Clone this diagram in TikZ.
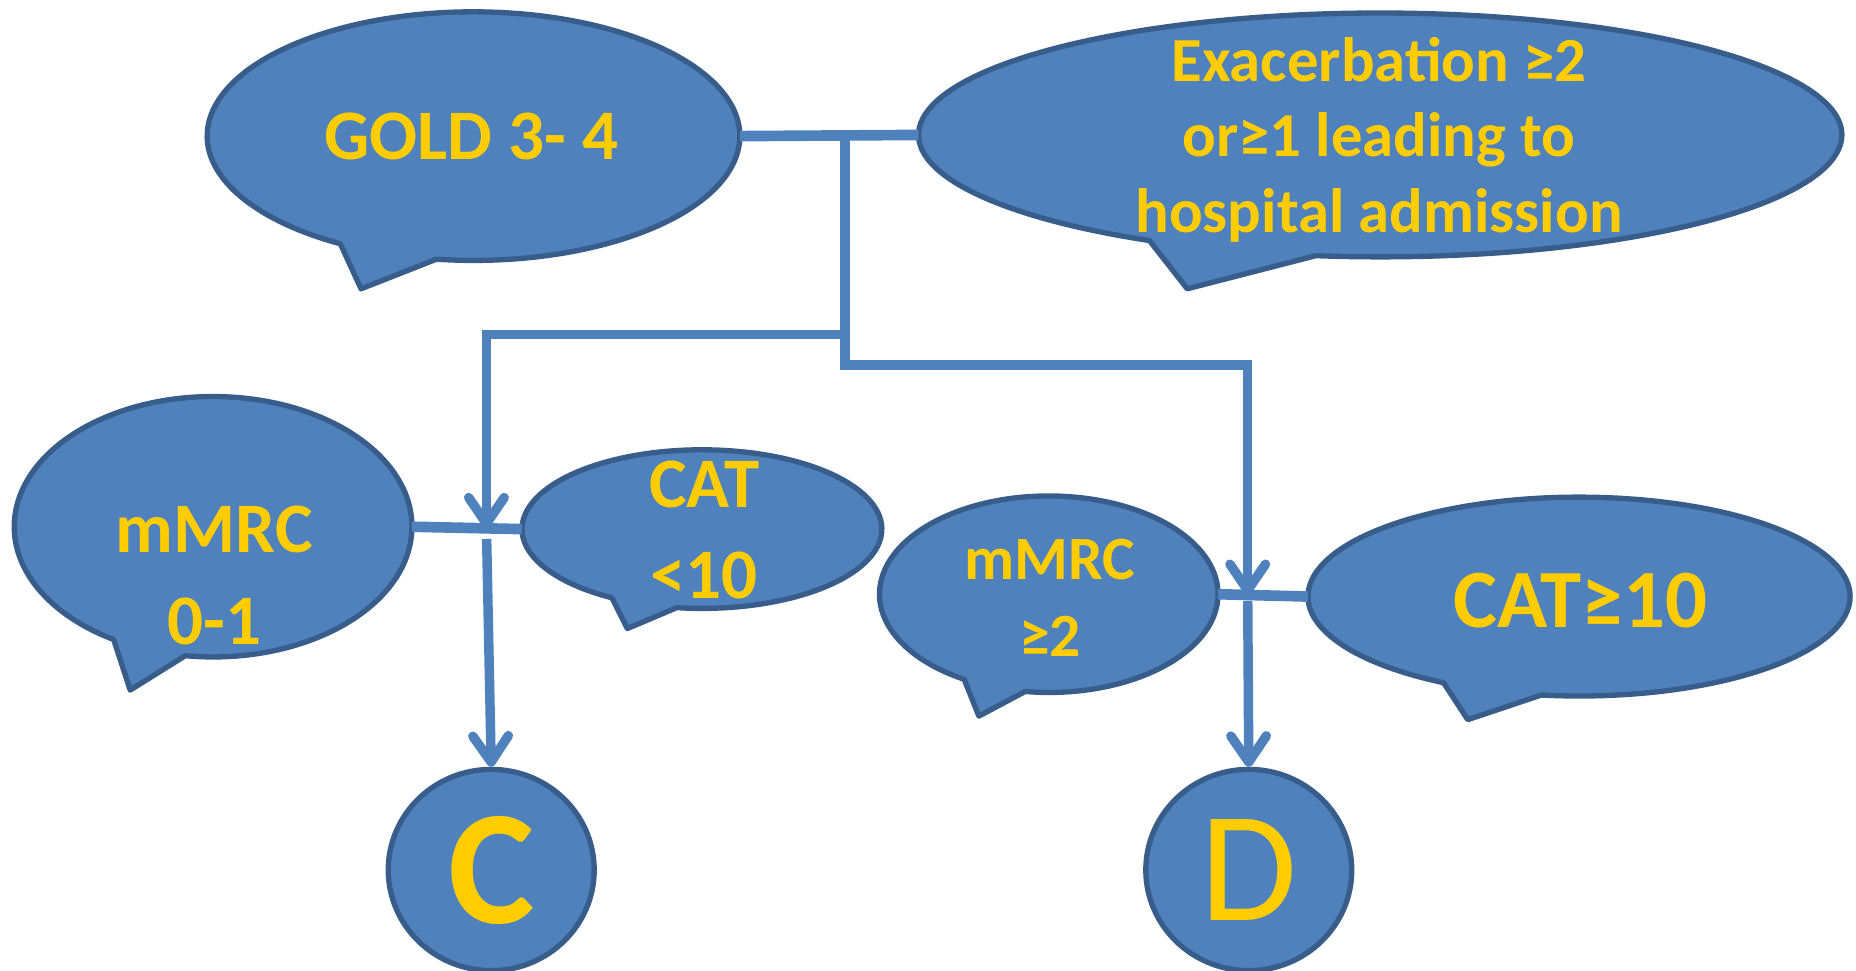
\documentclass[tikz,border=0pt]{standalone}
\usepackage{fontspec}
\setmainfont{Carlito}
\usetikzlibrary{arrows.meta,calc,shapes.geometric}
\definecolor{ppblue}{HTML}{4F81BD}
\definecolor{ppdark}{HTML}{385D8A}
\definecolor{ppyellow}{HTML}{FFCC00}
\tikzset{
  bubble/.style={fill=ppblue, draw=ppdark, line width=4.5pt, line join=round},
  anchornode/.style={ellipse, inner sep=0pt, outer sep=0pt},
  lbl/.style={text=ppyellow, font=\bfseries, inner sep=0pt, align=center},
  linkline/.style={draw=ppblue, line width=9pt},
  arrline/.style={draw=ppblue, line width=8pt,
    -{Straight Barb[length=22pt,width=30pt,round]}},
}
% name, centre, x radius, y radius, tip
\newcommand{\speech}[5]{%
  \node[anchornode, minimum width=#3*2pt, minimum height=#4*2pt] (#1) at #2 {};
  \draw[bubble] ($#2+(262:#3pt and #4pt)$) arc[start angle=262, end angle=600,
    x radius=#3pt, y radius=#4pt] -- #5 -- cycle;
}
\begin{document}
\begin{tikzpicture}[x=1pt,y=1pt]
\useasboundingbox (0,0) rectangle (1568,820);
% bubbles
\speech{gold}{(400,705)}{225}{105}{(305,576)}
\speech{exac}{(1166,706)}{390}{103}{(1003,576)}
\speech{m01}{(180,375)}{168}{110}{(110,237)}
\speech{cat10}{(593,373)}{152}{67}{(530,289)}
\speech{m2}{(886,318)}{143}{83}{(827,215)}
\speech{catge}{(1334,316)}{229}{84}{(1240,212)}
% end circles
\node[bubble, ellipse, minimum width=174pt, minimum height=170pt, inner sep=0pt,
  text=ppyellow, font=\fontsize{138}{150}\selectfont\bfseries] (C) at (415,85) {C};
\node[bubble, ellipse, minimum width=174pt, minimum height=170pt, inner sep=0pt,
  text=ppyellow, font=\fontsize{133}{150}\selectfont] (D) at (1055,85) {D};
% labels
\node[lbl, anchor=base, font=\fontsize{60}{72}\selectfont\bfseries] (goldt) at (398,685) {GOLD 3- 4};
\node[lbl, font=\fontsize{53}{64}\selectfont\bfseries] (exact) at (1165,702)
  {Exacerbation ≥2\\or≥1 leading to\\hospital admission};
\node[lbl, font=\fontsize{60}{78}\selectfont\bfseries] (m01t) at (181,334) {mMRC\\0-1};
\node[lbl, font=\fontsize{60}{77}\selectfont\bfseries] (cat10t) at (595,372) {CAT\\<10};
\node[lbl, font=\fontsize{52}{65}\selectfont\bfseries] (m2t) at (887,315) {mMRC\\≥2};
\node[lbl, anchor=base, font=\fontsize{70}{84}\selectfont\bfseries] (catget) at (1335,290) {CAT≥10};
% connectors
\coordinate (j1) at ($(gold.east)!0.589!(exac.west)$);
\coordinate (j2) at ($(m01.east)!0.677!(cat10.west)$);
\coordinate (j3) at ($(m2.east)!0.33!(catge.west)$);
\draw[linkline] (gold.east) -- (exac.west);
\draw[linkline] (m01.east) -- (cat10.west);
\draw[linkline] (m2.east) -- (catge.west);
\draw[arrline] (j1) -- ++(0,-168) -| (j2);
\draw[arrline] (j1) -- ++(0,-194) -| (j3);
\draw[arrline, shorten <=9pt] (j2) -- (C.north);
\draw[arrline, shorten <=5pt] (j3) -- (D.north);
\end{tikzpicture}
\end{document}
